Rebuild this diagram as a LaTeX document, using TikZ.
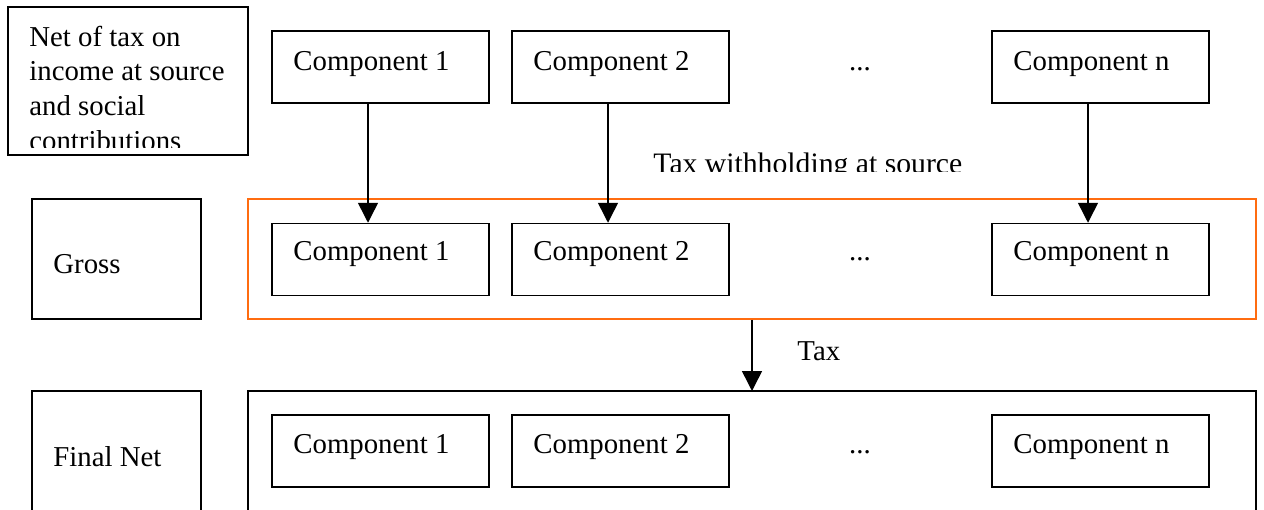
\documentclass[tikz,border=0pt]{standalone}
\usepackage{fontspec}
\setmainfont{Liberation Serif}
\usetikzlibrary{arrows.meta}
\definecolor{frameorange}{RGB}{255,108,16}
\tikzset{
  lw/.style={line width=0.75pt},
  plainbox/.style={draw, lw, inner sep=0pt},
  compbox/.style={plainbox, minimum width=108.5pt, minimum height=36pt},
  txt/.style={font=\fontsize{14.4}{17}\selectfont, inner sep=0pt, anchor=base west},
  arr/.style={lw, -{Triangle[length=10pt,width=10pt]}}
}
\begin{document}
\begin{tikzpicture}[x=0.5pt,y=-0.5pt]
\useasboundingbox (0,0) rectangle (1264,509);
% top-left label box
\node[plainbox, minimum width=120pt, minimum height=74pt] (netbox) at (128,81) {};
\begin{scope}
  \clip (8,7) rectangle (248,147);
  \node[txt] (nl1) at (29,46) {Net of tax on};
  \node[txt] (nl2) at (29,80.7) {income at source};
  \node[txt] (nl3) at (29,115.3) {and social};
  \node[txt] (nl4) at (29,150) {contributions};
\end{scope}
% top row
\node[compbox] (t1) at (380.5,67) {};
\node[compbox] (t2) at (620.5,67) {};
\node[compbox] (tn) at (1100.5,67) {};
\node[txt] (t1l) at (293,70) {Component 1};
\node[txt] (t2l) at (533,70) {Component 2};
\node[txt] (tnl) at (1013,70) {Component n};
\node[txt, anchor=base] (tdots) at (860,70) {...};
% withholding label (clipped at bottom)
\begin{scope}
  \clip (630,140) rectangle (1000,171);
  \node[txt, font=\fontsize{14.85}{17}\selectfont] (wlabel) at (653,173) {Tax withholding at source};
\end{scope}
% gross row
\node[plainbox, minimum width=84.5pt, minimum height=60pt] (gross) at (116.5,259) {};
\node[txt] (grossl) at (53,273) {Gross};
\node[plainbox, draw=frameorange, minimum width=504pt, minimum height=60pt] (orange) at (752,259) {};
\node[compbox] (m1) at (380.5,259.5) {};
\node[compbox] (m2) at (620.5,259.5) {};
\node[compbox] (mn) at (1100.5,259.5) {};
\node[txt] (m1l) at (293,260) {Component 1};
\node[txt] (m2l) at (533,260) {Component 2};
\node[txt] (mnl) at (1013,260) {Component n};
\node[txt, anchor=base] (mdots) at (860,260) {...};
% arrows top -> middle
\draw[arr] ([xshift=-6.25pt]t1.south) -- ([xshift=-6.25pt]m1.north);
\draw[arr] ([xshift=-6.25pt]t2.south) -- ([xshift=-6.25pt]m2.north);
\draw[arr] ([xshift=-6.25pt]tn.south) -- ([xshift=-6.25pt]mn.north);
% final net row (boxes run off the bottom edge)
\draw[lw] (32,515) -- (32,391) -- (201,391) -- (201,515);
\node[txt] (finall) at (53,466) {Final Net};
\draw[lw] (248,515) -- (248,391) -- (1256,391) -- (1256,515);
\coordinate (bigtop) at (752,391);
\node[compbox] (b1) at (380.5,451) {};
\node[compbox] (b2) at (620.5,451) {};
\node[compbox] (bn) at (1100.5,451) {};
\node[txt] (b1l) at (293,453) {Component 1};
\node[txt] (b2l) at (533,453) {Component 2};
\node[txt] (bnl) at (1013,453) {Component n};
\node[txt, anchor=base] (bdots) at (860,453) {...};
% tax arrow
\draw[arr] (orange.south) -- (bigtop);
\node[txt] (taxl) at (797,360) {Tax};
\end{tikzpicture}
\end{document}
